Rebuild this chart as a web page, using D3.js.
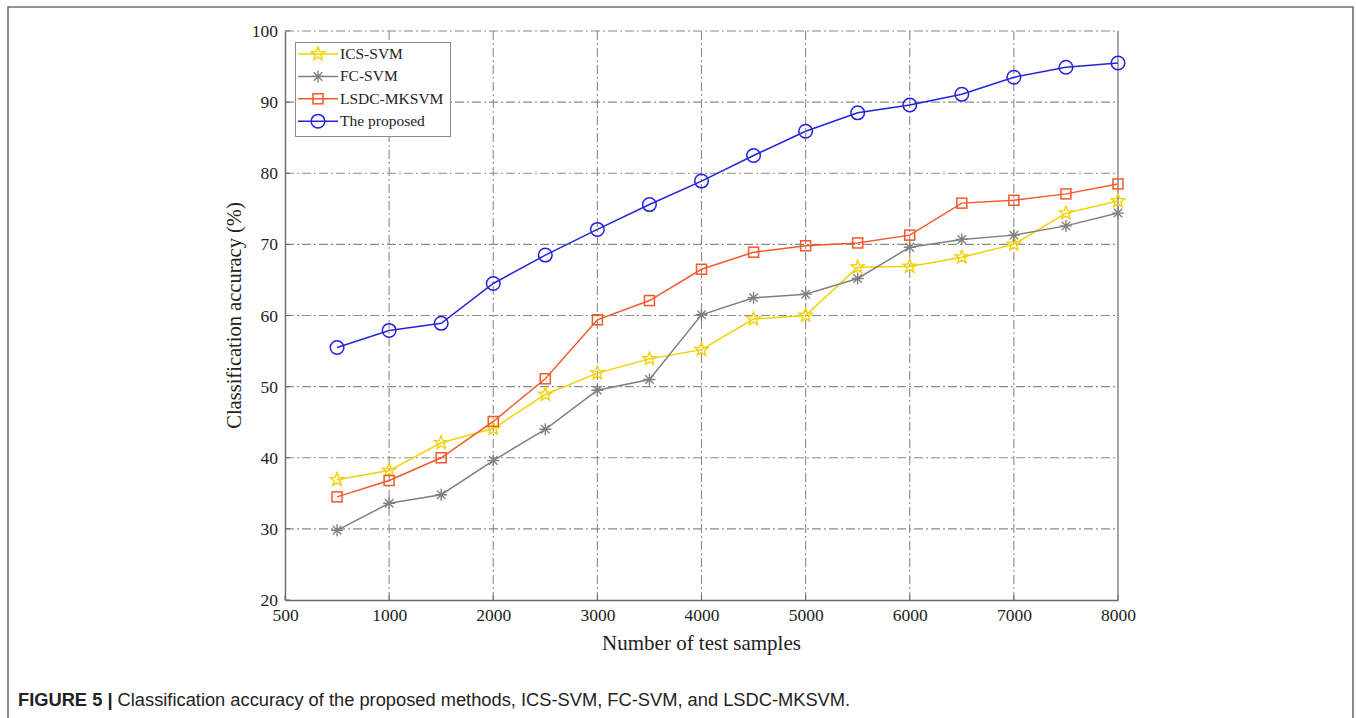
<!DOCTYPE html>
<html><head><meta charset="utf-8">
<script src="https://cdn.jsdelivr.net/npm/d3@7"></script>
<style>
body{margin:0;background:#fff;}
svg{display:block;}
</style></head>
<body>
<svg id="chart" width="1356" height="718"></svg>
<script>
const samples = [500,1000,1500,2000,2500,3000,3500,4000,4500,5000,5500,6000,6500,7000,7500,8000];
const icsSvm   = [36.9,38.2,42.1,44.1,48.9,51.9,53.9,55.2,59.5,60.0,66.8,66.9,68.2,70.0,74.4,76.1];
const fcSvm    = [29.8,33.6,34.8,39.6,44.0,49.5,51.0,60.1,62.5,63.0,65.2,69.6,70.7,71.3,72.6,74.4];
const lsdcMk   = [34.5,36.8,40.0,45.1,51.1,59.4,62.1,66.5,68.9,69.8,70.2,71.3,75.8,76.2,77.1,78.5];
const proposed = [55.5,57.9,58.9,64.5,68.5,72.1,75.6,78.9,82.5,85.9,88.5,89.6,91.1,93.5,94.9,95.5];
const xTickValues = [0,1000,2000,3000,4000,5000,6000,7000,8000];
const xTickLabels = ["500","1000","2000","3000","4000","5000","6000","7000","8000"];
const yTickValues = [20,30,40,50,60,70,80,90,100];
const seriesNames = ["ICS-SVM","FC-SVM","LSDC-MKSVM","The proposed"];

const svg = d3.select("#chart");
const W = 1356, H = 718;
const L = 285, R = 1118, T = 31, B = 600;
const x = d3.scaleLinear().domain([0,8000]).range([L,R]);
const y = d3.scaleLinear().domain([20,100]).range([B,T]);
const serif = "'Liberation Serif','DejaVu Serif',serif";
const gridCol = "#8a8a8a";

// outer frame
svg.append("path").attr("d",`M8,${H+2} V7 H1353 V${H+2}`)
  .attr("fill","none").attr("stroke","#6f6f6f").attr("stroke-width",1.6);

// grid
const g = svg.append("g");
g.selectAll(".vg").data(xTickValues.slice(1,-1)).join("line")
  .attr("x1",d=>x(d)).attr("x2",d=>x(d)).attr("y1",T).attr("y2",B)
  .attr("stroke",gridCol).attr("stroke-width",1.1).attr("stroke-dasharray","9,3,2,3");
g.selectAll(".hg").data(yTickValues.slice(1)).join("line")
  .attr("x1",L).attr("x2",R).attr("y1",d=>y(d)).attr("y2",d=>y(d))
  .attr("stroke",gridCol).attr("stroke-width",1.1).attr("stroke-dasharray","9,3,2,3");

// axes
const xAxis = d3.axisBottom(x).tickValues(xTickValues).tickFormat((d,i)=>xTickLabels[i]).tickSize(0).tickPadding(9);
const yAxis = d3.axisLeft(y).tickValues(yTickValues).tickFormat(d3.format("d")).tickSize(0).tickPadding(7);
const gx = svg.append("g").attr("transform",`translate(0,${B})`).call(xAxis);
const gy = svg.append("g").attr("transform",`translate(${L},0)`).call(yAxis);
[gx,gy].forEach(a=>{
  a.select(".domain").attr("stroke","#6a6a6a").attr("stroke-width",1.4);
  a.selectAll("text").attr("font-family",serif).attr("font-size",17.5).attr("fill","#222");
});
svg.append("line").attr("x1",R).attr("x2",R).attr("y1",T).attr("y2",B).attr("stroke","#6a6a6a").attr("stroke-width",1.2);
// small inner ticks
svg.selectAll(".xt").data(xTickValues).join("line").attr("x1",d=>x(d)).attr("x2",d=>x(d)).attr("y1",B).attr("y2",B-5).attr("stroke","#6a6a6a");
svg.selectAll(".yt").data(yTickValues).join("line").attr("x1",L).attr("x2",L+5).attr("y1",d=>y(d)).attr("y2",d=>y(d)).attr("stroke","#6a6a6a");

// titles
svg.append("text").attr("x",(L+R)/2).attr("y",650).attr("text-anchor","middle")
  .attr("font-family",serif).attr("font-size",21).attr("fill","#222").text("Number of test samples");
svg.append("text").attr("transform",`translate(241,${(T+B)/2}) rotate(-90)`).attr("text-anchor","middle")
  .attr("font-family",serif).attr("font-size",20.5).attr("fill","#222").text("Classification accuracy (%)");

// series
const series = [
  {name:seriesNames[0], vals:icsSvm, color:"#f5d000", marker:"star"},
  {name:seriesNames[1], vals:fcSvm, color:"#808080", marker:"asterisk"},
  {name:seriesNames[2], vals:lsdcMk, color:"#f5582a", marker:"square"},
  {name:seriesNames[3], vals:proposed, color:"#2323dc", marker:"circle"}
];
function drawMarker(sel, type, color, cx, cy){
  if(type==="circle"){
    sel.append("circle").attr("cx",cx).attr("cy",cy).attr("r",6.8).attr("fill","none").attr("stroke",color).attr("stroke-width",1.5);
  } else if(type==="square"){
    sel.append("rect").attr("x",cx-5).attr("y",cy-5).attr("width",10).attr("height",10).attr("fill","none").attr("stroke",color).attr("stroke-width",1.5);
  } else if(type==="star"){
    const pts=[];
    for(let i=0;i<10;i++){const r=i%2?3:7;const a=-Math.PI/2+i*Math.PI/5;pts.push([cx+r*Math.cos(a),cy+r*Math.sin(a)]);}
    sel.append("polygon").attr("points",pts.map(p=>p.join(",")).join(" ")).attr("fill","none").attr("stroke",color).attr("stroke-width",1.4);
  } else {
    let d="";
    for(let i=0;i<4;i++){const a=i*Math.PI/4;const r=6;d+=`M${cx-r*Math.cos(a)},${cy-r*Math.sin(a)}L${cx+r*Math.cos(a)},${cy+r*Math.sin(a)}`;}
    sel.append("path").attr("d",d).attr("stroke",color).attr("stroke-width",1.4);
  }
}
const line = d3.line().x((d,i)=>x(samples[i])).y(d=>y(d));
series.forEach(s=>{
  const gs = svg.append("g");
  gs.append("path").datum(s.vals).attr("d",line).attr("fill","none").attr("stroke",s.color).attr("stroke-width",1.5);
  s.vals.forEach((v,i)=>drawMarker(gs,s.marker,s.color,x(samples[i]),y(v)));
});

// legend
const lg = svg.append("g");
lg.append("rect").attr("x",295.5).attr("y",42.5).attr("width",155).attr("height",94)
  .attr("fill","#fff").attr("stroke","#8a8a8a").attr("stroke-width",1);
series.forEach((s,i)=>{
  const ly = 54 + i*22.4;
  lg.append("line").attr("x1",298).attr("x2",338).attr("y1",ly).attr("y2",ly).attr("stroke",s.color).attr("stroke-width",1.5);
  drawMarker(lg,s.marker,s.color,318,ly);
  lg.append("text").attr("x",340).attr("y",ly+5).attr("font-family",serif).attr("font-size",15.5).attr("fill","#222").text(s.name);
});

// caption
const cap = svg.append("text").attr("x",18).attr("y",706).attr("font-family","'Liberation Sans',Arial,sans-serif").attr("font-size",18.3).attr("fill","#222");
cap.append("tspan").attr("font-weight","bold").text("FIGURE 5 | ");
cap.append("tspan").text("Classification accuracy of the proposed methods, ICS-SVM, FC-SVM, and LSDC-MKSVM.");
</script>
</body></html>
